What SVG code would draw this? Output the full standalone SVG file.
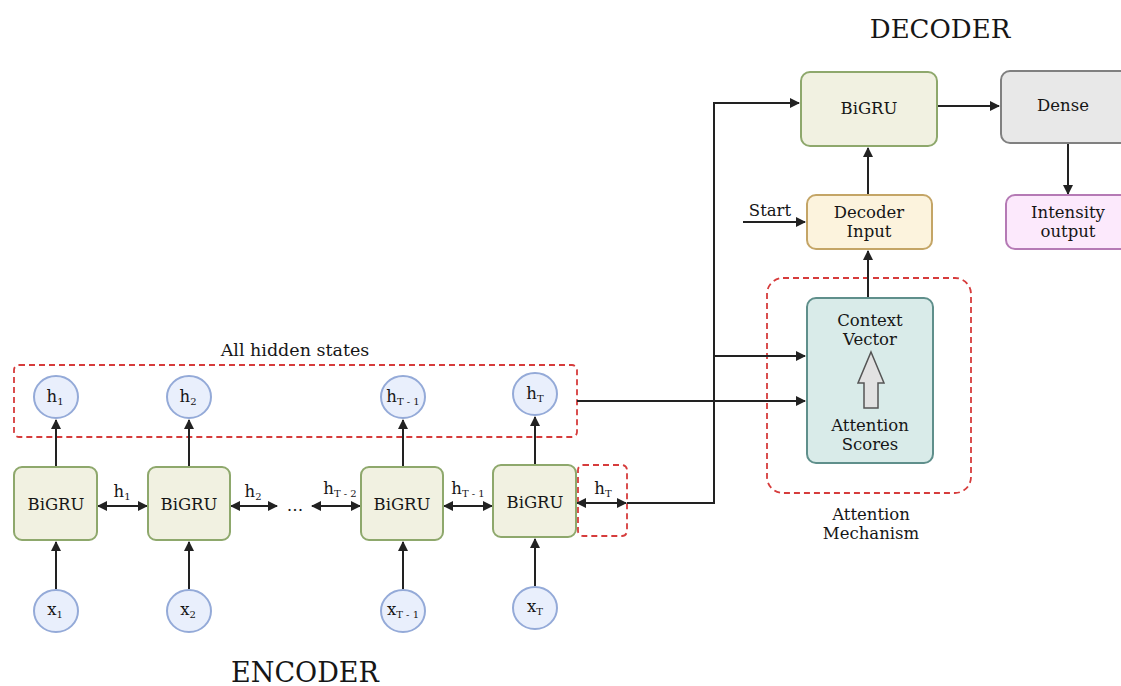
<svg xmlns="http://www.w3.org/2000/svg" width="1121" height="686" viewBox="0 0 1121 686">
  <defs>
    <marker id="ah" viewBox="0 0 10 10" refX="9" refY="5" markerWidth="10" markerHeight="10" markerUnits="userSpaceOnUse" orient="auto-start-reverse">
      <path d="M0,0 L10,5 L0,10 z" fill="#222"/>
    </marker>
    <style>
      text { font-family: "DejaVu Serif", "Liberation Serif", serif; fill: #161616; }
      .t { font-size: 16.5px; text-anchor: middle; }
      .sub { font-size: 10px; }
      .title { font-size: 26px; text-anchor: middle; }
      .gru { fill: #f1f1e1; stroke: #8ea86c; stroke-width: 2; }
      .st { fill: #e9effc; stroke: #94aad8; stroke-width: 2; }
      .dash { fill: none; stroke: #d63c3c; stroke-width: 1.8; stroke-dasharray: 6 4; }
      .arr { fill: none; stroke: #222; stroke-width: 2; marker-end: url(#ah); }
      .arr2 { fill: none; stroke: #222; stroke-width: 2; marker-end: url(#ah); marker-start: url(#ah); }
    </style>
  </defs>
  <rect width="1121" height="686" fill="#fff"/>

  <!-- titles -->
  <text class="title" x="940" y="38">DECODER</text>
  <text class="title" x="305" y="682" style="font-size:27px">ENCODER</text>

  <!-- grouping frames -->
  <g id="hidden-states-frame">
    <rect class="dash" x="14" y="365" width="563" height="72" rx="5"/>
    <text class="t" x="295" y="356" style="font-size:17.5px">All hidden states</text>
  </g>
  <rect id="last-state-frame" class="dash" x="578" y="465" width="49" height="71" rx="5"/>
  <g id="attention-frame">
    <rect class="dash" x="767" y="278" width="204" height="215" rx="16"/>
    <text class="t" x="871" y="520">Attention</text>
    <text class="t" x="871" y="539">Mechanism</text>
  </g>

  <!-- connectors -->
  <g id="connectors">
    <!-- inputs into encoder cells -->
    <line class="arr" x1="56" y1="589" x2="56" y2="542"/>
    <line class="arr" x1="189" y1="589" x2="189" y2="542"/>
    <line class="arr" x1="403" y1="589" x2="403" y2="542"/>
    <line class="arr" x1="535" y1="586" x2="535" y2="539"/>
    <!-- cells up to hidden states -->
    <line class="arr" x1="56" y1="467" x2="56" y2="420"/>
    <line class="arr" x1="189" y1="467" x2="189" y2="420"/>
    <line class="arr" x1="403" y1="467" x2="403" y2="420"/>
    <line class="arr" x1="535" y1="465" x2="535" y2="417"/>
    <!-- recurrent links -->
    <line class="arr2" x1="98" y1="506" x2="147" y2="506"/>
    <line class="arr2" x1="231" y1="506" x2="277" y2="506"/>
    <line class="arr2" x1="312" y1="506" x2="360" y2="506"/>
    <line class="arr2" x1="444" y1="506" x2="492" y2="506"/>
    <line class="arr2" x1="577" y1="503" x2="626" y2="503"/>
    <!-- final state to decoder and attention -->
    <polyline class="arr" points="627,503 714,503 714,103 799,103"/>
    <line class="arr" x1="714" y1="356" x2="805" y2="356"/>
    <line class="arr" x1="577" y1="401" x2="805" y2="401"/>
    <!-- decoder path -->
    <line class="arr" x1="868" y1="297" x2="868" y2="251"/>
    <line class="arr" x1="868" y1="195" x2="868" y2="148"/>
    <line class="arr" x1="743" y1="222" x2="805" y2="222"/>
    <line class="arr" x1="937" y1="106" x2="999" y2="106"/>
    <line class="arr" x1="1068" y1="143" x2="1068" y2="194"/>
  </g>

  <!-- recurrent link labels -->
  <g id="link-labels">
    <text class="t" x="122" y="497">h<tspan class="sub" dy="3">1</tspan></text>
    <text class="t" x="253" y="497">h<tspan class="sub" dy="3">2</tspan></text>
    <text class="t" x="295" y="511">…</text>
    <text class="t" x="340" y="494">h<tspan class="sub" dy="3">T - 2</tspan></text>
    <text class="t" x="468" y="494">h<tspan class="sub" dy="3">T - 1</tspan></text>
    <text class="t" x="603" y="494">h<tspan class="sub" dy="3">T</tspan></text>
    <text class="t" x="770" y="216">Start</text>
  </g>

  <!-- encoder cells -->
  <g id="enc-1"><rect class="gru" x="14" y="467" width="83" height="73" rx="8"/><text class="t" x="56" y="510">BiGRU</text></g>
  <g id="enc-2"><rect class="gru" x="148" y="467" width="82" height="73" rx="8"/><text class="t" x="189" y="510">BiGRU</text></g>
  <g id="enc-3"><rect class="gru" x="361" y="467" width="82" height="73" rx="8"/><text class="t" x="402" y="510">BiGRU</text></g>
  <g id="enc-4"><rect class="gru" x="493" y="465" width="83" height="72" rx="8"/><text class="t" x="535" y="508">BiGRU</text></g>

  <!-- hidden states -->
  <g id="h-1"><ellipse class="st" cx="56" cy="397" rx="22" ry="21"/><text class="t" x="55" y="402">h<tspan class="sub" dy="3">1</tspan></text></g>
  <g id="h-2"><ellipse class="st" cx="189" cy="397" rx="22" ry="21"/><text class="t" x="188" y="402">h<tspan class="sub" dy="3">2</tspan></text></g>
  <g id="h-t1"><ellipse class="st" cx="403" cy="397" rx="22" ry="21"/><text class="t" x="403" y="402">h<tspan class="sub" dy="3">T - 1</tspan></text></g>
  <g id="h-t"><ellipse class="st" cx="535" cy="394" rx="22" ry="21"/><text class="t" x="535" y="399">h<tspan class="sub" dy="3">T</tspan></text></g>

  <!-- inputs -->
  <g id="x-1"><ellipse class="st" cx="56" cy="611" rx="22" ry="21"/><text class="t" x="55" y="615">x<tspan class="sub" dy="3">1</tspan></text></g>
  <g id="x-2"><ellipse class="st" cx="189" cy="611" rx="22" ry="21"/><text class="t" x="188" y="615">x<tspan class="sub" dy="3">2</tspan></text></g>
  <g id="x-t1"><ellipse class="st" cx="403" cy="611" rx="22" ry="21"/><text class="t" x="403" y="615">x<tspan class="sub" dy="3">T - 1</tspan></text></g>
  <g id="x-t"><ellipse class="st" cx="535" cy="608" rx="22" ry="21"/><text class="t" x="535" y="612">x<tspan class="sub" dy="3">T</tspan></text></g>

  <!-- decoder -->
  <g id="dec-gru"><rect class="gru" x="801" y="72" width="136" height="74" rx="9"/><text class="t" x="869" y="114">BiGRU</text></g>
  <g id="dense"><rect x="1001" y="71" width="130" height="72" rx="9" fill="#e8e8e8" stroke="#808080" stroke-width="2"/><text class="t" x="1063" y="111">Dense</text></g>
  <g id="intensity"><rect x="1006" y="195" width="125" height="54" rx="9" fill="#fce9fc" stroke="#b57ab5" stroke-width="2"/><text class="t" x="1068" y="218">Intensity</text><text class="t" x="1068" y="237">output</text></g>
  <g id="dec-input"><rect x="807" y="195" width="125" height="54" rx="9" fill="#fcf3dd" stroke="#c4a566" stroke-width="2"/><text class="t" x="869" y="218">Decoder</text><text class="t" x="869" y="237">Input</text></g>

  <!-- attention -->
  <g id="context">
    <rect x="807" y="298" width="126" height="165" rx="9" fill="#d9ebe9" stroke="#5f8f8b" stroke-width="2"/>
    <text class="t" x="870" y="326">Context</text>
    <text class="t" x="870" y="345">Vector</text>
    <path d="M871,352 L884,383 L878,383 L878,408 L864,408 L864,383 L858,383 Z" fill="#e2e2e2" stroke="#555" stroke-width="1.5"/>
    <text class="t" x="870" y="431">Attention</text>
    <text class="t" x="870" y="450">Scores</text>
  </g>
</svg>
